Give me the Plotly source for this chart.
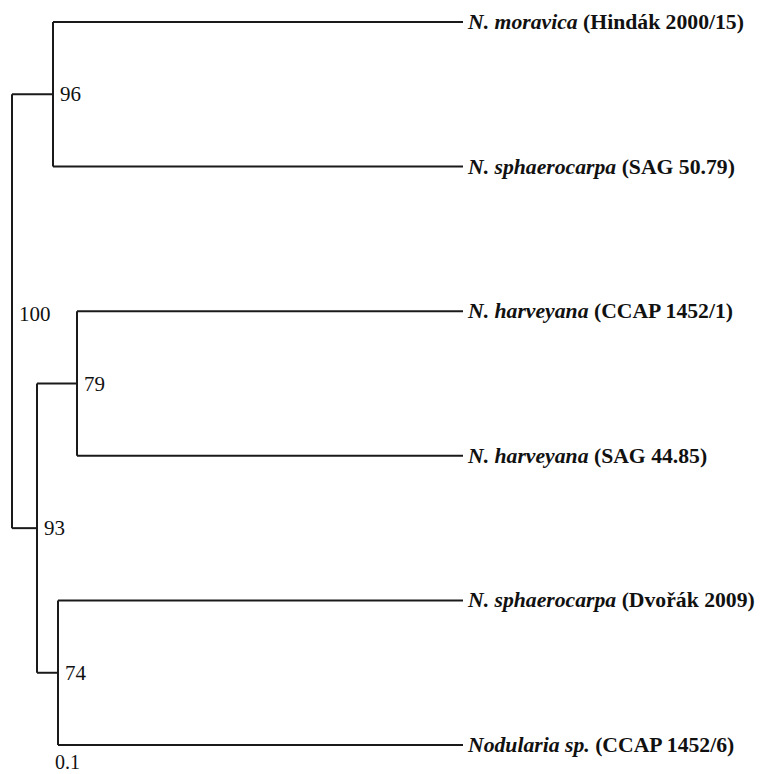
import plotly.graph_objects as go

# Leaves (top to bottom) and their strain labels
leaf_species = ["N. moravica", "N. sphaerocarpa", "N. harveyana", "N. harveyana",
                "N. sphaerocarpa", "Nodularia sp."]
leaf_strains = ["(Hindák 2000/15)", "(SAG 50.79)", "(CCAP 1452/1)", "(SAG 44.85)",
                "(Dvořák 2009)", "(CCAP 1452/6)"]
leaf_depth = [0.451, 0.451, 0.451, 0.451, 0.451, 0.451]

# Internal nodes: name, depth, children, support
node_names = ["root", "n96", "n93", "n79", "n74"]
node_depth = [0.0, 0.041, 0.025, 0.065, 0.046]
node_children = [["n96", "n93"], ["L0", "L1"], ["n79", "n74"], ["L2", "L3"], ["L4", "L5"]]
node_support = ["100", "96", "93", "79", "74"]
scale_label = "0.1"

# ---- compute positions
pos = {}
for i, d in enumerate(leaf_depth):
    pos[f"L{i}"] = (d, float(i))

def ypos(name):
    if name in pos:
        return pos[name][1]
    k = node_names.index(name)
    ys = [ypos(c) for c in node_children[k]]
    y = sum(ys) / len(ys)
    pos[name] = (node_depth[k], y)
    return y

for n in node_names:
    ypos(n)

xs, ys = [], []
for k, n in enumerate(node_names):
    px, py = pos[n]
    cy = [pos[c][1] for c in node_children[k]]
    xs += [px, px, None]
    ys += [min(cy), max(cy), None]
    for c in node_children[k]:
        cx, cyy = pos[c]
        xs += [px, cx, None]
        ys += [cyy, cyy, None]

fig = go.Figure()
fig.add_trace(go.Scatter(x=xs, y=ys, mode="lines",
                         line=dict(color="#1a1a1a", width=2), hoverinfo="skip",
                         showlegend=False))

ann = []
for i in range(len(leaf_species)):
    x, y = pos[f"L{i}"]
    ann.append(dict(x=x, y=y, xref="x", yref="y", xanchor="left", yanchor="middle",
                    xshift=3, showarrow=False, borderpad=0,
                    text=f"<b><i>{leaf_species[i]}</i> {leaf_strains[i]}</b>",
                    font=dict(family="Liberation Serif", size=21.7, color="#111")))
for k, n in enumerate(node_names):
    x, y = pos[n]
    ann.append(dict(x=x, y=y, xref="x", yref="y", xanchor="left", yanchor="middle",
                    xshift=5, yshift=(-3 if n == "root" else 0), showarrow=False,
                    text=node_support[k],
                    font=dict(family="Liberation Serif", size=21, color="#111")))
ann.append(dict(x=0.055, y=5.2, xref="x", yref="y", xanchor="center", yanchor="bottom",
                showarrow=False, text=scale_label, borderpad=0,
                font=dict(family="Liberation Serif", size=20, color="#111")))

fig.update_layout(
    width=755, height=766, margin=dict(l=0, r=0, t=0, b=0),
    paper_bgcolor="white", plot_bgcolor="white",
    xaxis=dict(range=[-0.004, 0.751], visible=False, fixedrange=True),
    yaxis=dict(range=[5.2, -0.0968], visible=False, fixedrange=True),
    annotations=ann,
)
fig.write_html("out.html")
